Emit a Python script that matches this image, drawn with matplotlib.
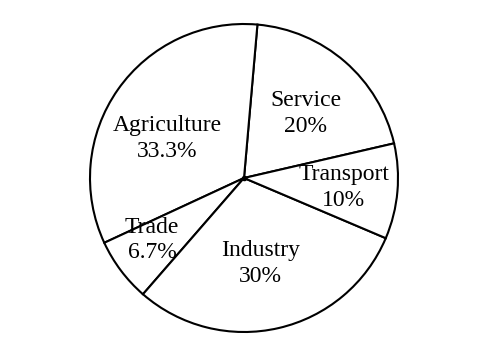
import numpy as np
import matplotlib
matplotlib.use("Agg")
import matplotlib.pyplot as plt

# sectors, counter-clockwise from the Service/Transport boundary
sectors = ["Service", "Agriculture", "Trade", "Industry", "Transport"]
shares = [20, 33.3, 6.7, 30, 10]
share_labels = ["20%", "33.3%", "6.7%", "30%", "10%"]

# label placement: fraction of radius and angle nudge (deg) from wedge middle
label_radius = [0.58, 0.56, 0.72, 0.565, 0.65]
label_nudge = [-2.5, 8, -3, -2, -0.5]

plt.rcParams["font.family"] = ["Liberation Serif", "DejaVu Serif"]

fig = plt.figure(figsize=(4.86, 3.41), dpi=100)
ax = fig.add_axes([0, 0, 1, 1])

wedges, _ = ax.pie(shares, startangle=13, counterclock=True,
                   colors=["white"] * len(shares),
                   wedgeprops=dict(edgecolor="black", linewidth=1.5),
                   radius=1.0)

for w, name, pct, r, d in zip(wedges, sectors, share_labels,
                              label_radius, label_nudge):
    mid = np.deg2rad((w.theta1 + w.theta2) / 2 + d)
    ax.text(r * np.cos(mid), r * np.sin(mid), name + "\n" + pct,
            ha="center", va="center", fontsize=17, linespacing=1.3)

# small dot at the centre
ax.plot(0, 0, "o", color="black", markersize=3)

ax.set_xlim(-244 / 154, (486 - 244) / 154)
ax.set_ylim(-(341 - 178) / 154, 178 / 154)
ax.set_aspect("auto")
ax.axis("off")

fig.savefig("out.png", dpi=100, facecolor="white")
